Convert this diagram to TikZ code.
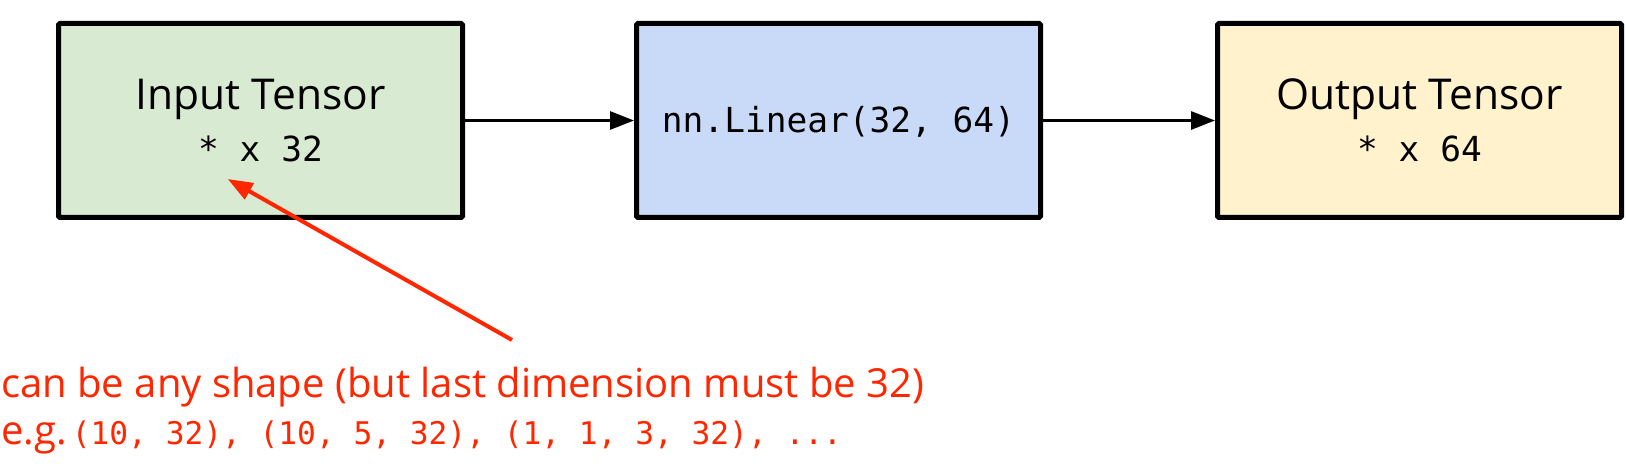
\documentclass[tikz,border=0pt]{standalone}
\usepackage{fontspec}
\setmainfont{Open Sans}
\newfontfamily\monofam{DejaVu Sans Mono}
\usetikzlibrary{arrows.meta}
\definecolor{boxgreen}{HTML}{D9EAD3}
\definecolor{boxblue}{HTML}{C9DAF8}
\definecolor{boxyellow}{HTML}{FFF2CC}
\definecolor{notered}{RGB}{255,38,0}
\tikzset{
  tbox/.style={draw=black, line width=5pt, rounded corners=1.5pt, minimum width=404pt, minimum height=194pt, inner sep=0pt},
  title/.style={anchor=base, inner sep=0pt, font=\fontsize{42.5}{50}\selectfont},
  monolabel/.style={anchor=base, inner sep=0pt, font=\monofam\fontsize{34.5}{40}\selectfont},
  flow/.style={line width=3pt, -{Triangle[length=24pt,width=18pt]}},
  notearrow/.style={notered, line width=4pt, -{Triangle[length=25pt,width=18pt]}},
  note/.style={anchor=base west, inner sep=0pt, text=notered, font=\fontsize{40}{47}\selectfont}
}
\begin{document}
\begin{tikzpicture}[x=1pt,y=-1pt]
\useasboundingbox (0,0) rectangle (1626,470);
\node[tbox, fill=boxgreen] (in) at (260.5,120.5) {};
\node[tbox, fill=boxblue] (lin) at (838.5,120.5) {};
\node[tbox, fill=boxyellow] (out) at (1419.5,120.5) {};
\node[title] (intitle) at (260.5,110) {Input Tensor};
\node[monolabel] (inshape) at (260.5,162) {* x 32};
\node[monolabel] (lintext) at (838.5,133) {nn.Linear(32, 64)};
\node[title] (outtitle) at (1419.5,110) {Output Tensor};
\node[monolabel] (outshape) at (1419.5,162) {* x 64};
\draw[flow] (in.east) -- (lin.west);
\draw[flow] (lin.east) -- (out.west);
\coordinate (notetail) at (512,340);
\coordinate (notetip) at (227.7,179);
\draw[notearrow] (notetail) -- (notetip);
\node[note] (note1) at (1,397) {can be any shape (but last dimension must be 32)};
\node[note] (note2) at (1,444) {e.g.\hspace{5pt}{\monofam\fontsize{31.2}{40}\selectfont (10, 32), (10, 5, 32), (1, 1, 3, 32), ...}};
\end{tikzpicture}
\end{document}
